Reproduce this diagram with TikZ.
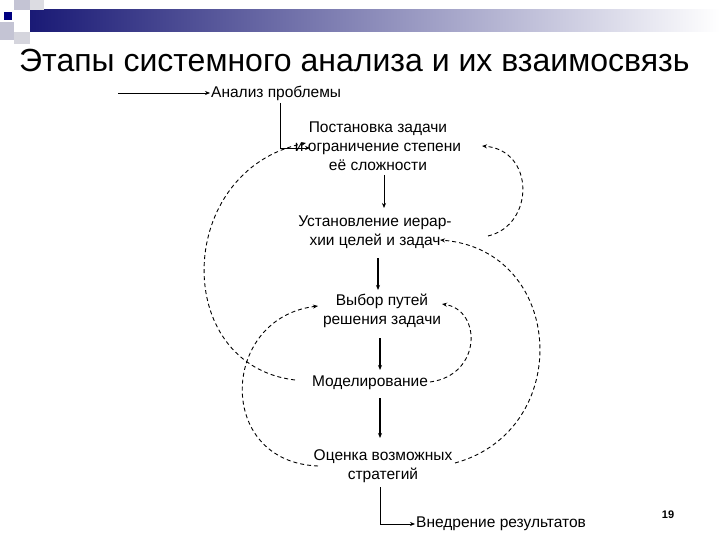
\documentclass[tikz,border=0pt]{standalone}
\usepackage{fontspec}
\setmainfont{Liberation Sans}
\usetikzlibrary{arrows.meta}
\begin{document}
\begin{tikzpicture}[x=1pt,y=-1pt,
  lbl/.style={font=\fontsize{15.5}{19}\selectfont, align=center, inner sep=1pt},
  solid arrow/.style={-{Stealth[length=5pt,width=4pt]}, line width=0.7pt},
  thick arrow/.style={-{Stealth[length=5pt,width=4pt]}, line width=1.4pt},
  feedback/.style={dashed, dash pattern=on 4pt off 3pt, line width=0.9pt, -{Stealth[length=5pt,width=4pt]}}]
\useasboundingbox (0,0) rectangle (720,540);
\fill[white] (0,0) rectangle (720,540);
% decoration
\shade[left color=blue!40!black!90, right color=white] (30,10) rectangle (720,32);
\fill[blue!15!gray!40] (14,0) rectangle (30,10);
\fill[blue!15!gray!40] (0,22) rectangle (14,40);
\fill[blue!10!gray!25] (30,0) rectangle (44,10);
\fill[blue!50!black] (4,12) rectangle (12,20);
\fill[blue!10!gray!30] (14,32) rectangle (30,44);
% title
\node[font=\fontsize{32}{36}\selectfont, anchor=west, inner sep=0pt] (title) at (19,60) {Этапы системного анализа и их взаимосвязь};
% nodes
\node[lbl, anchor=west] (a) at (210,93) {Анализ проблемы};
\node[lbl] (b) at (378,146) {Постановка задачи\\и ограничение степени\\её сложности};
\node[lbl] (c) at (375,232) {Установление иерар-\\хии целей и задач};
\node[lbl] (d) at (382,311) {Выбор путей\\решения задачи};
\node[lbl] (e) at (370,383) {Моделирование};
\node[lbl] (f) at (383,466) {Оценка возможных\\стратегий};
\node[lbl, anchor=west] (g) at (415,524) {Внедрение результатов};
\node[font=\bfseries\fontsize{11}{12}\selectfont] (pg) at (668,515) {19};
\coordinate (start) at (118,93);
% solid arrows
\draw[solid arrow] (start) -- (a.west);
\draw[solid arrow] (280,103) -- (280,148) -- (310,148);
\draw[solid arrow] (384,175) -- (384,208);
\draw[thick arrow] (378,258) -- (378,290);
\draw[thick arrow] (380,338) -- (380,370);
\draw[thick arrow] (380,398) -- (380,438);
\draw[solid arrow] (380,487) -- (380,524) -- (g.west);
% dashed feedbacks
\draw[feedback] (488,236) .. controls (535,225) and (535,150) .. (482,146);
\draw[feedback] (295,380) .. controls (170,365) and (175,170) .. (306,143);
\draw[feedback] (455,463) .. controls (575,430) and (565,250) .. (440,240);
\draw[feedback] (430,382) .. controls (482,375) and (482,310) .. (442,304);
\draw[feedback] (318,466) .. controls (215,462) and (220,318) .. (318,306);
\end{tikzpicture}
\end{document}
